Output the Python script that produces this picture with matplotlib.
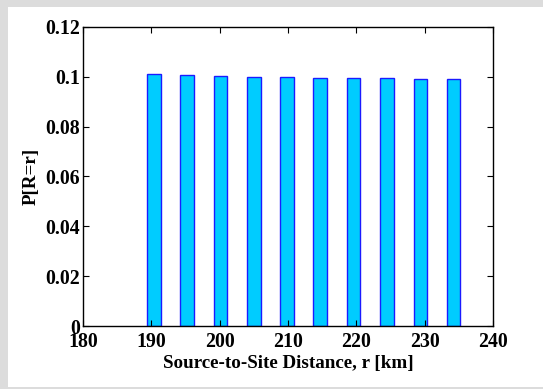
import matplotlib
matplotlib.use("Agg")
import matplotlib.pyplot as plt
from matplotlib.patches import Rectangle

distances = [190.4, 195.2, 200.1, 205.0, 209.9, 214.7, 219.6, 224.5, 229.4, 234.2]
probabilities = [0.1010, 0.1006, 0.1005, 0.1001, 0.1001, 0.0997, 0.0997, 0.0997, 0.0993, 0.0993]
xticks = [180, 190, 200, 210, 220, 230, 240]
yticks = [0, 0.02, 0.04, 0.06, 0.08, 0.1, 0.12]
yticklabels = ["0", "0.02", "0.04", "0.06", "0.08", "0.1", "0.12"]

plt.rcParams['font.family'] = ['Liberation Serif', 'DejaVu Serif']
plt.rcParams['font.weight'] = 'bold'

W, H = 543, 389
fig = plt.figure(figsize=(W/100, H/100), dpi=100)
fig.patch.set_facecolor('white')
gray = '#dcdcdc'
# gray frame bands: top, left, bottom
for (x0, y0, w, h) in [(0, H-7, W, 7), (0, 0, 8, H), (0, 0, W, 2)]:
    fig.patches.append(Rectangle((x0/W, y0/H), w/W, h/H, transform=fig.transFigure,
                                 facecolor=gray, edgecolor='none', zorder=0))

ax = fig.add_axes([83/W, 1-326/H, (493-83)/W, (326-27)/H])
ax.bar(distances, probabilities, width=2.0, color='#00CCFF', edgecolor='#1a1aff', linewidth=1.0)
ax.set_xlim(180, 240)
ax.set_ylim(0, 0.12)
ax.set_xticks(xticks)
ax.set_yticks(yticks)
ax.set_yticklabels(yticklabels)
ax.tick_params(direction='in', top=True, right=True, length=4, labelsize=14.3, pad=2)
ax.tick_params(axis='x', pad=4.6)
for lab in ax.get_xticklabels() + ax.get_yticklabels():
    lab.set_fontweight('bold')
ax.set_xlabel('Source-to-Site Distance, r [km]', fontsize=13.7, fontweight='bold', labelpad=2)
ax.set_ylabel('P[R=r]', fontsize=13.7, fontweight='bold', labelpad=4)
for s in ax.spines.values():
    s.set_linewidth(1.0)

fig.savefig('out.png', dpi=100)
